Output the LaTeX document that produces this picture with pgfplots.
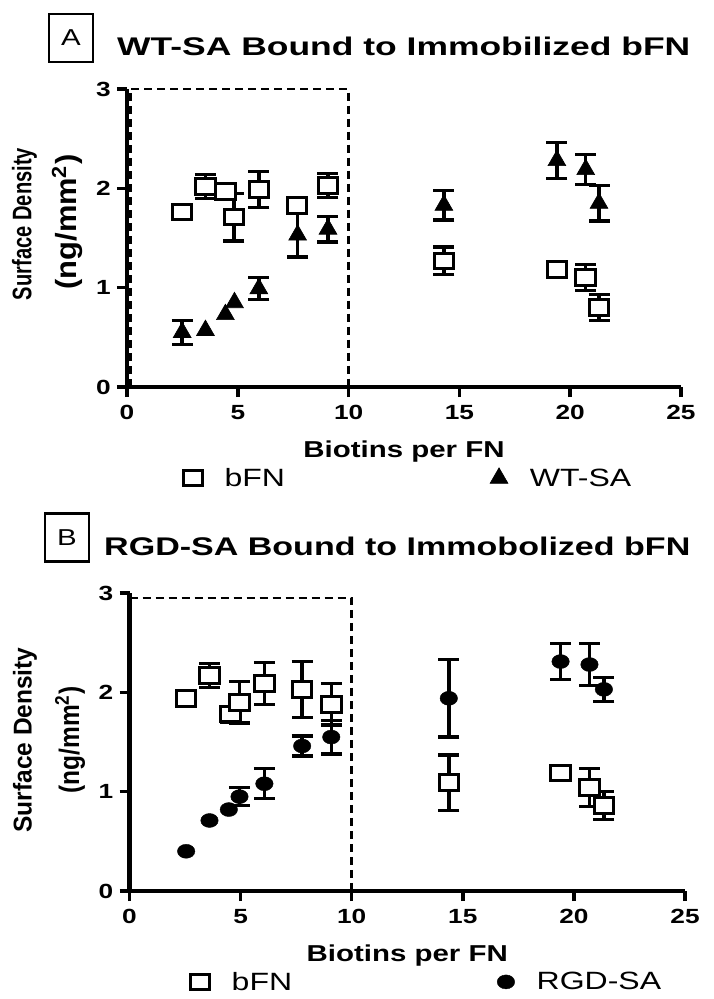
\documentclass[border=0pt]{standalone}
\usepackage{pgfplots}
\pgfplotsset{compat=1.18}
\usepackage{pgfplotstable}
\usepackage{fontspec}
\setmainfont{Liberation Sans}[FakeStretch=1.28]
\usepackage{graphicx}

\pgfplotstableread{
x y e
2.49 1.76 0.03
3.54 2.02 0.12
4.44 1.97 0.04
4.82 1.71 0.24
5.95 1.99 0.18
7.67 1.83 0.03
9.07 2.03 0.12
14.3 1.27 0.14
19.4 1.18 0.03
20.7 1.10 0.13
21.3 0.80 0.13
}\bfnA
\pgfplotstableread{
x y e
2.49 0.55 0.12
5.95 0.99 0.11
7.70 1.53 0.22
9.07 1.59 0.13
14.3 1.83 0.15
19.4 2.28 0.18
20.7 2.19 0.15
21.3 1.85 0.18
}\wtsa
\pgfplotstableread{
x y
3.54 0.57
4.44 0.73
4.85 0.85
}\wtsanoerr
\pgfplotstableread{
x y e
2.55 1.94 0.06
3.60 2.17 0.12
4.54 1.78 0.08
4.95 1.90 0.21
6.07 2.09 0.21
7.77 2.03 0.28
9.08 1.88 0.21
14.37 1.09 0.28
19.4 1.19 0.03
20.7 1.04 0.19
21.35 0.86 0.14
}\bfnB
\pgfplotstableread{
x y e
4.95 0.95 0.09
6.07 1.08 0.15
7.77 1.46 0.10
9.08 1.55 0.17
14.37 1.94 0.39
19.4 2.31 0.18
20.7 2.28 0.21
21.35 2.03 0.12
}\rgdsa
\pgfplotstableread{
x y
2.55 0.40
3.60 0.71
4.47 0.82
}\rgdsanoerr

\pgfplotsset{
  prism/.style={
    scale only axis, axis lines=left,
    axis line style={-, line width=4.5pt, black},
    xmin=0, xmax=25, ymin=0, ymax=3,
    xtick={0,5,...,25}, ytick={0,1,2,3},
    tick align=outside, major tick length=10pt,
    tick style={line width=3.5pt, black},
    /pgf/number format/assume math mode=true,
    ticklabel style={font=\fontsize{20.5}{20.5}\selectfont\bfseries, inner sep=0pt},
    xticklabel style={anchor=north, yshift=-8pt},
    yticklabel style={anchor=east, xshift=-6pt},
    xlabel={Biotins per FN},
    xlabel style={font=\fontsize{23}{23}\selectfont\bfseries, at={(axis description cs:0.5,-0.215)}, anchor=center, inner sep=0pt},
    clip=false,
    legend columns=2,
    legend style={draw=none, fill=none, anchor=west, inner sep=0pt,
      font=\fontsize{25}{25}\selectfont,
      nodes={inner sep=0pt},
      /tikz/every odd column/.append style={column sep=22pt},
      /tikz/every even column/.append style={column sep=205pt}},
    legend image code/.code={\draw[mark repeat=2,mark phase=2,##1] plot coordinates {(-10pt,0pt) (0pt,0pt) (10pt,0pt)};},
  },
  ebar/.style={error bars/.cd, y dir=both, y explicit,
    error bar style={line width=3.5pt, black},
    error mark options={rotate=90, line width=3.3pt, mark size=10.5pt, black}},
  sq/.style={only marks, mark=square*, mark size=7.8pt, mark options={fill=white, draw=black, line width=3pt, xscale=1.25}},
  tri/.style={only marks, mark=triangle*, mark size=10.3pt, mark options={fill=black, draw=black, line width=0.6pt}},
  dot/.style={only marks, mark=*, mark size=7pt, mark options={fill=black, draw=black, xscale=1.25}},
}

\begin{document}
\begin{tikzpicture}
\path[use as bounding box] (0,0) rectangle (714pt,-999pt);

% Panel A
\node[draw, line width=2.2pt, minimum width=44pt, minimum height=48pt, inner sep=0pt] at (71pt,-38pt) {\fontsize{23}{23}\selectfont A};
\node[anchor=west, inner sep=0pt] at (117pt,-46.5pt) {\resizebox{573pt}{18.5pt}{\bfseries WT-SA Bound to Immobilized bFN}};
\node[inner sep=0pt] at (24.5pt,-224pt) {\resizebox{25pt}{152pt}{\rotatebox{90}{\bfseries Surface Density}}};
\node[inner sep=0pt] at (67.5pt,-222pt) {\resizebox{31pt}{135pt}{\rotatebox{90}{\bfseries (ng/mm\textsuperscript{2})}}};

\begin{axis}[prism, at={(127pt,-387pt)}, anchor=south west, width=554pt, height=298pt,
  legend style={at={(0.101,-0.305)}}]
\draw[dash pattern=on 8pt off 5pt, line width=2.6pt] (axis cs:0.15,0) -- (axis cs:0.15,3) -- (axis cs:10,3) -- (axis cs:10,0);
\addplot[sq, ebar] table[x=x, y=y, y error=e] {\bfnA};
\addlegendentry{bFN}
\addplot[tri, ebar] table[x=x, y=y, y error=e] {\wtsa};
\addlegendentry{WT-SA}
\addplot[tri, forget plot] table[x=x, y=y] {\wtsanoerr};
\end{axis}

% Panel B
\node[draw, line width=2.2pt, minimum width=44pt, minimum height=48pt, inner sep=0pt] at (67pt,-537.5pt) {\fontsize{23}{23}\selectfont B};
\node[anchor=west, inner sep=0pt] at (104pt,-546pt) {\resizebox{586pt}{18.5pt}{\bfseries RGD-SA Bound to Immobolized bFN}};
\node[inner sep=0pt] at (25pt,-740pt) {\resizebox{24pt}{185pt}{\rotatebox{90}{\bfseries Surface Density}}};
\node[inner sep=0pt] at (70pt,-740pt) {\resizebox{30pt}{107pt}{\rotatebox{90}{\bfseries (ng/mm\textsuperscript{2})}}};

\begin{axis}[prism, at={(129.5pt,-891pt)}, anchor=south west, width=555.5pt, height=298pt,
  legend style={at={(0.109,-0.305)}}]
\draw[dash pattern=on 8pt off 5pt, line width=2.6pt] (axis cs:0,2.95) -- (axis cs:10,2.95) -- (axis cs:10,0);
\addplot[sq, ebar] table[x=x, y=y, y error=e] {\bfnB};
\addlegendentry{bFN}
\addplot[dot, ebar] table[x=x, y=y, y error=e] {\rgdsa};
\addlegendentry{RGD-SA}
\addplot[dot, forget plot] table[x=x, y=y] {\rgdsanoerr};
\end{axis}
\end{tikzpicture}
\end{document}
